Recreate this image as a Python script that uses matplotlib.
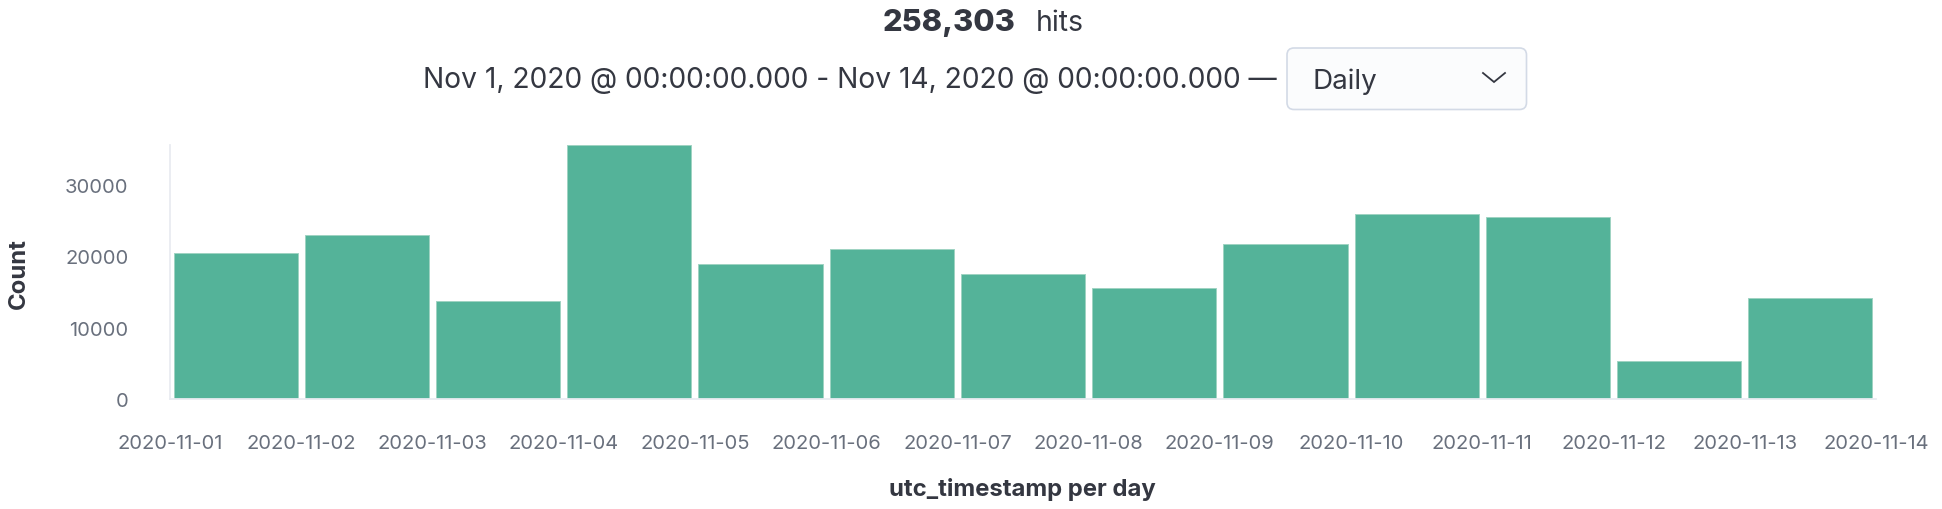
import matplotlib
matplotlib.use("Agg")
import matplotlib.pyplot as plt
import matplotlib.dates as mdates
from matplotlib.patches import FancyBboxPatch
from matplotlib.lines import Line2D
from matplotlib.transforms import IdentityTransform
import numpy as np

# ---- data ----
days = np.array(["2020-11-01", "2020-11-02", "2020-11-03", "2020-11-04", "2020-11-05",
                 "2020-11-06", "2020-11-07", "2020-11-08", "2020-11-09", "2020-11-10",
                 "2020-11-11", "2020-11-12", "2020-11-13"], dtype="datetime64[D]")
counts = [20510, 23030, 13660, 35570, 18970, 21070, 17570, 15480, 21680, 25970, 25460, 5270, 14080]
tick_labels = ["2020-11-01", "2020-11-02", "2020-11-03", "2020-11-04", "2020-11-05",
               "2020-11-06", "2020-11-07", "2020-11-08", "2020-11-09", "2020-11-10",
               "2020-11-11", "2020-11-12", "2020-11-13", "2020-11-14"]
y_ticks = [0, 10000, 20000, 30000]
total_hits = "258,303"
range_text = "Nov 1, 2020 @ 00:00:00.000 - Nov 14, 2020 @ 00:00:00.000 \u2014"
interval = "Daily"

W, H = 1942, 510
plt.rcParams['font.family'] = ['Inter', 'DejaVu Sans']

DARK = '#343741'
SUB = '#69707D'
BAR = '#54B399'
AXC = '#E9ECF1'

fig = plt.figure(figsize=(W / 100, H / 100), dpi=100)
fig.patch.set_facecolor('white')

ax_l, ax_r, ax_t, ax_b = 170, 1876, 146, 400
ax = fig.add_axes([ax_l / W, 1 - ax_b / H, (ax_r - ax_l) / W, (ax_b - ax_t) / H])

x = mdates.date2num(days.astype('datetime64[ms]').astype(object))
ax.bar(x + 0.027, counts, width=0.946, align='edge', color=BAR,
       edgecolor='#9fd3c2', linewidth=0.7)

tick_dates = np.array(tick_labels, dtype='datetime64[D]')
tx = mdates.date2num(tick_dates.astype('datetime64[ms]').astype(object))
ax.set_xticks(tx)
ax.set_xticklabels(tick_labels)
ax.set_xlim(tx[0], tx[-1])
ax.set_ylim(0, max(counts))
ax.set_yticks(y_ticks)
ax.set_yticklabels([str(v) for v in y_ticks])

for s in ['top', 'right']:
    ax.spines[s].set_visible(False)
for s in ['left', 'bottom']:
    ax.spines[s].set_color(AXC)
    ax.spines[s].set_linewidth(1.3)

ax.tick_params(axis='both', length=0, labelsize=14.5, labelcolor=SUB)
ax.tick_params(axis='y', pad=30)
ax.tick_params(axis='x', pad=25)

def fx(px):
    return px / W

def fy(py):
    return 1 - py / H

fig.text(fx(19), fy(274), "Count", rotation=90, ha='center', va='center',
         fontsize=17.2, fontweight='bold', color=DARK)
fig.text(fx(1022), fy(496), "utc_timestamp per day", ha='center', va='baseline',
         fontsize=17.2, fontweight='bold', color=DARK)

# header
fig.text(fx(1016), fy(31), total_hits, ha='right', va='baseline',
         fontsize=22.2, fontweight='heavy', color=DARK)
fig.text(fx(1035.5), fy(31), "hits", ha='left', va='baseline',
         fontsize=20.5, color=DARK)
fig.text(fx(423), fy(88.3), range_text, ha='left', va='baseline',
         fontsize=20.3, color=DARK)

# interval selector box
box = FancyBboxPatch((1287, H - 110.5), 1526.5 - 1287, 110.5 - 49,
                     boxstyle="round,pad=0,rounding_size=7",
                     transform=IdentityTransform(), facecolor='#FBFCFD',
                     edgecolor='#D3DAE6', linewidth=1.2)
fig.add_artist(box)
fig.text(fx(1312), fy(89.3), interval, ha='left', va='baseline',
         fontsize=20, color=DARK)
chev = Line2D([1483, 1494, 1505], [H - 74, H - 83, H - 74],
              transform=IdentityTransform(), color=DARK, linewidth=1.3,
              solid_joinstyle='miter')
fig.add_artist(chev)

fig.savefig("out.png", dpi=100)
